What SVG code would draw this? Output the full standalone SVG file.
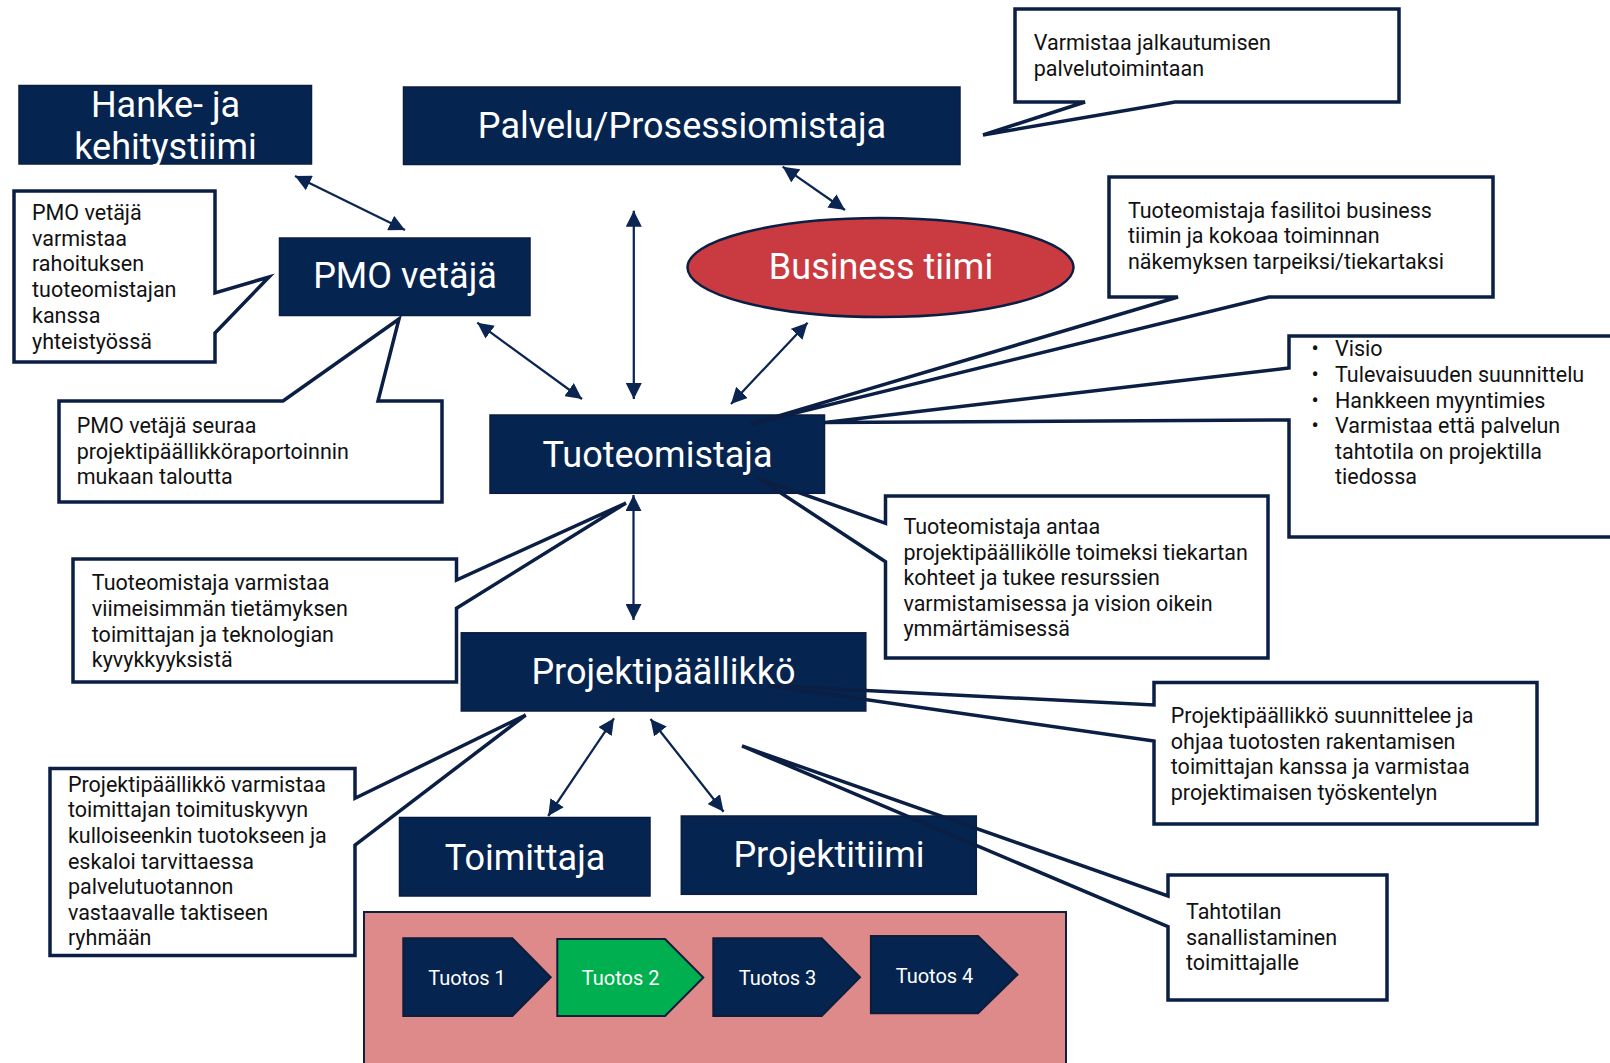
<svg xmlns="http://www.w3.org/2000/svg" width="1610" height="1063" viewBox="0 0 1610 1063">
<defs>
<style>
.box{fill:#05244f;stroke:#0b1d3f;stroke-width:1.5}
.lbl{font-family:Roboto,"Liberation Sans",sans-serif;font-size:36px;fill:#ffffff;text-anchor:middle}
.co{fill:none;stroke:#0b1f44;stroke-width:3.5;stroke-linejoin:miter}
.cofill{fill:#ffffff}
.ct{font-family:Roboto,"Liberation Sans",sans-serif;font-size:21.5px;fill:#111111}
.con{stroke:#0a2552;stroke-width:2.25;fill:none;marker-start:url(#ah);marker-end:url(#ah)}
.tu{stroke:#0d1d3a;stroke-width:2}
.tt{font-family:Roboto,"Liberation Sans",sans-serif;font-size:20px;fill:#ffffff;text-anchor:middle}
</style>
<marker id="ah" viewBox="0 0 16 16" refX="16" refY="8" markerWidth="16" markerHeight="16" markerUnits="userSpaceOnUse" orient="auto-start-reverse">
<path d="M0,0 L16,8 L0,16 z" fill="#0a2552"/>
</marker>
</defs>
<rect width="1610" height="1063" fill="#ffffff"/>

<!-- deliverables area -->
<g id="tuotokset">
<rect x="364" y="912" width="702" height="160" fill="#de898a" stroke="#0d1f42" stroke-width="2"/>
<g id="tuotos1"><path class="tu" d="M403.3,938.3 H512.3 L550.7,977.2 L512.3,1016 H403.3 Z" fill="#05244f"/><text class="tt" x="467" y="985">Tuotos 1</text></g>
<g id="tuotos2"><path class="tu" d="M557.3,939 H665 L703.3,977.5 L665,1016 H557.3 Z" fill="#00b050"/><text class="tt" x="620.7" y="985">Tuotos 2</text></g>
<g id="tuotos3"><path class="tu" d="M713.3,938.3 H821.7 L860,977.2 L821.7,1016 H713.3 Z" fill="#05244f"/><text class="tt" x="777.5" y="985">Tuotos 3</text></g>
<g id="tuotos4"><path class="tu" d="M870.9,936 H978 L1017.5,974.7 L978,1013.3 H870.9 Z" fill="#05244f"/><text class="tt" x="934.5" y="982.7">Tuotos 4</text></g>
</g>

<!-- nodes -->
<g id="hanke"><rect class="box" x="19" y="85.5" width="292.5" height="78.5"/><text class="lbl" x="165.5" y="116.7">Hanke- ja</text><text class="lbl" x="165.5" y="159.3">kehitystiimi</text></g>
<g id="palvelu"><rect class="box" x="403.5" y="87" width="556.5" height="77.5"/><text class="lbl" x="682" y="137.7">Palvelu/Prosessiomistaja</text></g>
<g id="pmo"><rect class="box" x="279.5" y="238" width="250.5" height="77.5"/><text class="lbl" x="405" y="288.3">PMO vetäjä</text></g>
<g id="business"><ellipse cx="880.5" cy="267.5" rx="193" ry="49.5" fill="#c93b40" stroke="#0b1f44" stroke-width="2.5"/><text class="lbl" x="881" y="279.3">Business tiimi</text></g>
<g id="tuoteomistaja"><rect class="box" x="490" y="415" width="334.5" height="78.3"/><text class="lbl" x="657.5" y="467.3">Tuoteomistaja</text></g>
<g id="projektipaallikko"><rect class="box" x="461.3" y="632.8" width="404.5" height="78.2"/><text class="lbl" x="663.5" y="684">Projektipäällikkö</text></g>
<g id="toimittaja"><rect class="box" x="399.5" y="817.5" width="250.5" height="78.5"/><text class="lbl" x="525" y="870">Toimittaja</text></g>
<g id="projektitiimi"><rect class="box" x="681.3" y="816" width="295" height="78.3"/><text class="lbl" x="829" y="867.3">Projektitiimi</text></g>

<!-- connectors -->
<g id="connectors">
<line class="con" x1="295" y1="176" x2="405" y2="230"/>
<line class="con" x1="782.7" y1="166.7" x2="845" y2="210"/>
<line class="con" x1="633.8" y1="210.7" x2="633.8" y2="399"/>
<line class="con" x1="477.3" y1="322.7" x2="582" y2="399"/>
<line class="con" x1="807.6" y1="322.7" x2="731" y2="404"/>
<line class="con" x1="633.5" y1="495" x2="633.5" y2="620"/>
<line class="con" x1="614" y1="718.3" x2="548.2" y2="816"/>
<line class="con" x1="650.5" y1="719" x2="723.6" y2="811.7"/>
</g>

<!-- callouts -->
<g id="callout-jalkautuminen">
<rect class="cofill" x="1015" y="9" width="384" height="93"/>
<path class="co" d="M1085,102 H1015 V9 H1399 V102 H1175 L983,135 Z"/>
<text class="ct" x="1033.8" y="50">Varmistaa jalkautumisen</text>
<text class="ct" x="1033.8" y="75.7">palvelutoimintaan</text>
</g>
<g id="callout-pmo-rahoitus">
<rect class="cofill" x="14" y="191" width="201" height="171"/>
<path class="co" d="M215,333 V362 H14 V191 H215 V293 L269,277 Z"/>
<text class="ct" x="32" y="220">PMO vetäjä</text>
<text class="ct" x="32" y="245.7">varmistaa</text>
<text class="ct" x="32" y="271.4">rahoituksen</text>
<text class="ct" x="32" y="297.1">tuoteomistajan</text>
<text class="ct" x="32" y="322.8">kanssa</text>
<text class="ct" x="32" y="348.5">yhteistyössä</text>
</g>
<g id="callout-fasilitoi">
<rect class="cofill" x="1109" y="177" width="384" height="120"/>
<path class="co" d="M1178,297 H1109 V177 H1493 V297 H1269 L751,424 Z"/>
<text class="ct" x="1127.9" y="218">Tuoteomistaja fasilitoi business</text>
<text class="ct" x="1127.9" y="243.4">tiimin ja kokoaa toiminnan</text>
<text class="ct" x="1127.9" y="268.8">näkemyksen tarpeiksi/tiekartaksi</text>
</g>
<g id="callout-visio">
<rect class="cofill" x="1289" y="336" width="356" height="201"/>
<path class="co" d="M1289,368 V336 H1645 V537 H1289 V420 L825,422.5 Z"/>
<text class="ct" x="1311.5" y="356.3">•</text><text class="ct" x="1335" y="356.3">Visio</text>
<text class="ct" x="1311.5" y="381.9">•</text><text class="ct" x="1335" y="381.9">Tulevaisuuden suunnittelu</text>
<text class="ct" x="1311.5" y="407.5">•</text><text class="ct" x="1335" y="407.5">Hankkeen myyntimies</text>
<text class="ct" x="1311.5" y="433.1">•</text><text class="ct" x="1335" y="433.1">Varmistaa että palvelun</text>
<text class="ct" x="1335" y="458.7">tahtotila on projektilla</text>
<text class="ct" x="1335" y="484.3">tiedossa</text>
</g>
<g id="callout-pmo-seuraa">
<rect class="cofill" x="59" y="401" width="383" height="101"/>
<path class="co" d="M283,401 H59 V502 H442 V401 H378 L399,319 Z"/>
<text class="ct" x="76.7" y="433">PMO vetäjä seuraa</text>
<text class="ct" x="76.7" y="458.6">projektipäällikköraportoinnin</text>
<text class="ct" x="76.7" y="484.2">mukaan taloutta</text>
</g>
<g id="callout-antaa">
<rect class="cofill" x="885.5" y="496" width="382.5" height="162"/>
<path class="co" d="M885.5,523.3 V496 H1268 V658 H885.5 V561.7 L758.5,478.3 Z"/>
<text class="ct" x="903.4" y="534">Tuoteomistaja antaa</text>
<text class="ct" x="903.4" y="559.5">projektipäällikölle toimeksi tiekartan</text>
<text class="ct" x="903.4" y="585">kohteet ja tukee resurssien</text>
<text class="ct" x="903.4" y="610.5">varmistamisessa ja vision oikein</text>
<text class="ct" x="903.4" y="636">ymmärtämisessä</text>
</g>
<g id="callout-tietamys">
<rect class="cofill" x="73" y="559" width="383.5" height="123"/>
<path class="co" d="M456.5,608.3 V682 H73 V559 H456.5 V580 L626,503 Z"/>
<text class="ct" x="91.8" y="590.4">Tuoteomistaja varmistaa</text>
<text class="ct" x="91.8" y="616">viimeisimmän tietämyksen</text>
<text class="ct" x="91.8" y="641.6">toimittajan ja teknologian</text>
<text class="ct" x="91.8" y="667.2">kyvykkyyksistä</text>
</g>
<g id="callout-toimituskyky">
<rect class="cofill" x="50" y="768.5" width="305" height="187"/>
<path class="co" d="M355,845 V955.5 H50 V768.5 H355 V798.3 L525.7,715 Z"/>
<text class="ct" x="67.9" y="791.8">Projektipäällikkö varmistaa</text>
<text class="ct" x="67.9" y="817.4">toimittajan toimituskyvyn</text>
<text class="ct" x="67.9" y="842.9">kulloiseenkin tuotokseen ja</text>
<text class="ct" x="67.9" y="868.5">eskaloi tarvittaessa</text>
<text class="ct" x="67.9" y="894">palvelutuotannon</text>
<text class="ct" x="67.9" y="919.6">vastaavalle taktiseen</text>
<text class="ct" x="67.9" y="945.1">ryhmään</text>
</g>
<g id="callout-suunnittelee">
<rect class="cofill" x="1154" y="682.5" width="383" height="141.5"/>
<path class="co" d="M1154,705 V682.5 H1537 V824 H1154 V741 L768,685.5 Z"/>
<text class="ct" x="1170.8" y="723.4">Projektipäällikkö suunnittelee ja</text>
<text class="ct" x="1170.8" y="748.8">ohjaa tuotosten rakentamisen</text>
<text class="ct" x="1170.8" y="774.2">toimittajan kanssa ja varmistaa</text>
<text class="ct" x="1170.8" y="799.6">projektimaisen työskentelyn</text>
</g>
<g id="callout-tahtotila">
<rect class="cofill" x="1168" y="875" width="219" height="125"/>
<path class="co" d="M1168,896 V875 H1387 V1000 H1168 V926.7 L742,746 Z"/>
<text class="ct" x="1186" y="919.3">Tahtotilan</text>
<text class="ct" x="1186" y="945">sanallistaminen</text>
<text class="ct" x="1186" y="970">toimittajalle</text>
</g>
</svg>
